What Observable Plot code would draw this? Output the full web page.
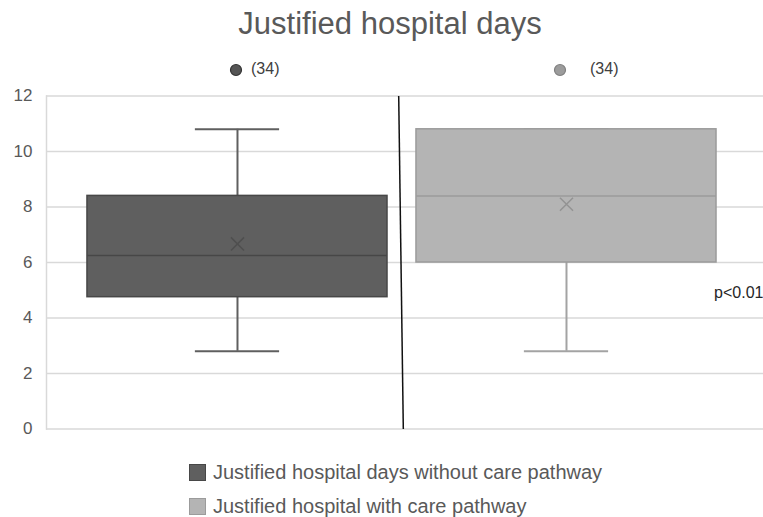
<!DOCTYPE html>
<html>
<head>
<meta charset="utf-8">
<script src="https://cdn.jsdelivr.net/npm/d3@7"></script>
<script src="https://cdn.jsdelivr.net/npm/@observablehq/plot@0.6"></script>
<style>
  html, body { margin: 0; padding: 0; background: #fff; }
  body { width: 763px; height: 517px; position: relative; overflow: hidden; font-family: "Liberation Sans", Arial, sans-serif; }
  .abs { position: absolute; white-space: nowrap; }
  #title { left: 0; width: 780px; top: 6px; text-align: center; font-size: 31px; color: #595959; }
  .cnt { font-size: 16px; line-height: 18px; color: #404040; }
  .leg { font-size: 20px; line-height: 20px; color: #595959; }
  .sq { position: absolute; width: 17px; height: 17px; box-sizing: border-box; }
  #chart { position: absolute; left: 0; top: 0; }
</style>
</head>
<body>
<div id="chart"></div>
<div id="title" class="abs">Justified hospital days</div>
<div id="toplegend"></div>
<div id="bottomlegend"></div>
<script>
// ---- data ----
const categories = ["Justified hospital days without care pathway", "Justified hospital with care pathway"];
const counts = [34, 34];
const mins = [2.8, 2.8];
const q1s = [4.75, 6.0];
const medians = [6.25, 8.4];
const q3s = [8.4, 10.8];
const maxs = [10.8, 10.8];
const means = [6.67, 8.1];
const yTicks = [0, 2, 4, 6, 8, 10, 12];
const pLabel = "p<0.01";

// ---- styles ----
const fills = ["#5f5f5f", "#b4b4b4"];
const strokes = ["#474747", "#9b9b9b"];
const whiskerColors = ["#5f5f5f", "#a3a3a3"];
const meanColors = ["#4f4f4f", "#939393"];
const legendDotFill = ["#555555", "#9c9c9c"];
const legendDotStroke = ["#333333", "#7f7f7f"];

const boxes = categories.map((c, i) => ({
  cat: c, pos: i + 0.5, n: counts[i], min: mins[i], q1: q1s[i], median: medians[i],
  q3: q3s[i], max: maxs[i], mean: means[i], fill: fills[i], stroke: strokes[i],
  wc: whiskerColors[i], mc: meanColors[i]
}));

const halfBox = 0.456, halfCap = 0.128;

const chart = Plot.plot({
  width: 763,
  height: 517,
  marginLeft: 46,
  marginRight: 0,
  marginTop: 95.5,
  marginBottom: 88.5,
  style: { fontFamily: "'Liberation Sans', Arial, sans-serif", color: "#595959", background: "transparent" },
  x: { type: "linear", domain: [-0.0805, 2.0988], axis: null },
  y: { domain: [0, 12], axis: null },
  marks: [
    Plot.gridY(yTicks, { stroke: "#d9d9d9", strokeOpacity: 1, strokeWidth: 1.5 }),
    Plot.axisY(yTicks, { tickSize: 0, tickPadding: 14, label: null, fontSize: 17, fill: "#595959", tickFormat: d => String(d) }),
    Plot.frame({ anchor: "left", stroke: "#d9d9d9", strokeWidth: 1.5 }),
    // whiskers
    Plot.ruleX(boxes, { x: "pos", y1: "min", y2: "q1", stroke: "wc", strokeWidth: 2 }),
    Plot.ruleX(boxes, { x: "pos", y1: "q3", y2: "max", stroke: "wc", strokeWidth: 2 }),
    Plot.ruleY(boxes, { y: "min", x1: d => d.pos - halfCap, x2: d => d.pos + halfCap, stroke: "wc", strokeWidth: 2 }),
    Plot.ruleY(boxes, { y: "max", x1: d => d.pos - halfCap, x2: d => d.pos + halfCap, stroke: "wc", strokeWidth: 2 }),
    // boxes
    Plot.rect(boxes, { x1: d => d.pos - halfBox, x2: d => d.pos + halfBox, y1: "q1", y2: "q3", fill: "fill", stroke: "stroke", strokeWidth: 1.5 }),
    Plot.ruleY(boxes, { y: "median", x1: d => d.pos - halfBox, x2: d => d.pos + halfBox, stroke: "stroke", strokeWidth: 1.5 }),
    Plot.dot(boxes, { x: "pos", y: "mean", symbol: "times", r: 6, stroke: "mc", strokeWidth: 1.5 }),
    // divider
    Plot.link([{ x1: 0.99, y1: 12, x2: 1.004, y2: 0 }], { x1: "x1", y1: "y1", x2: "x2", y2: "y2", stroke: "#111", strokeWidth: 1.5 }),
    // p value
    Plot.text([pLabel], { x: 2.0988, y: 4.92, text: d => d, textAnchor: "end", fontSize: 16, fill: "#262626" })
  ]
});
document.getElementById("chart").appendChild(chart);

// top legend (counts)
const topPos = [{ cx: 236, tx: 251 }, { cx: 560, tx: 590 }];
const tl = document.getElementById("toplegend");
boxes.forEach((b, i) => {
  const s = document.createElementNS("http://www.w3.org/2000/svg", "svg");
  s.setAttribute("width", 14); s.setAttribute("height", 14);
  s.style.position = "absolute"; s.style.left = (topPos[i].cx - 7) + "px"; s.style.top = (70 - 7) + "px";
  const c = document.createElementNS("http://www.w3.org/2000/svg", "circle");
  c.setAttribute("cx", 7); c.setAttribute("cy", 7); c.setAttribute("r", 5.5);
  c.setAttribute("fill", legendDotFill[i]); c.setAttribute("stroke", legendDotStroke[i]); c.setAttribute("stroke-width", 1.2);
  s.appendChild(c); tl.appendChild(s);
  const t = document.createElement("div");
  t.className = "abs cnt"; t.textContent = "(" + b.n + ")";
  t.style.left = topPos[i].tx + "px"; t.style.top = "60px";
  tl.appendChild(t);
});

// bottom legend
const bl = document.getElementById("bottomlegend");
const rowCenter = [472, 506];
boxes.forEach((b, i) => {
  const sq = document.createElement("div");
  sq.className = "sq"; sq.style.left = "189px"; sq.style.top = (rowCenter[i] - 8) + "px";
  sq.style.background = b.fill; sq.style.border = "1px solid " + b.stroke;
  bl.appendChild(sq);
  const t = document.createElement("div");
  t.className = "abs leg"; t.textContent = b.cat;
  t.style.left = "213px"; t.style.top = (rowCenter[i] - 10) + "px";
  bl.appendChild(t);
});
</script>
</body>
</html>
